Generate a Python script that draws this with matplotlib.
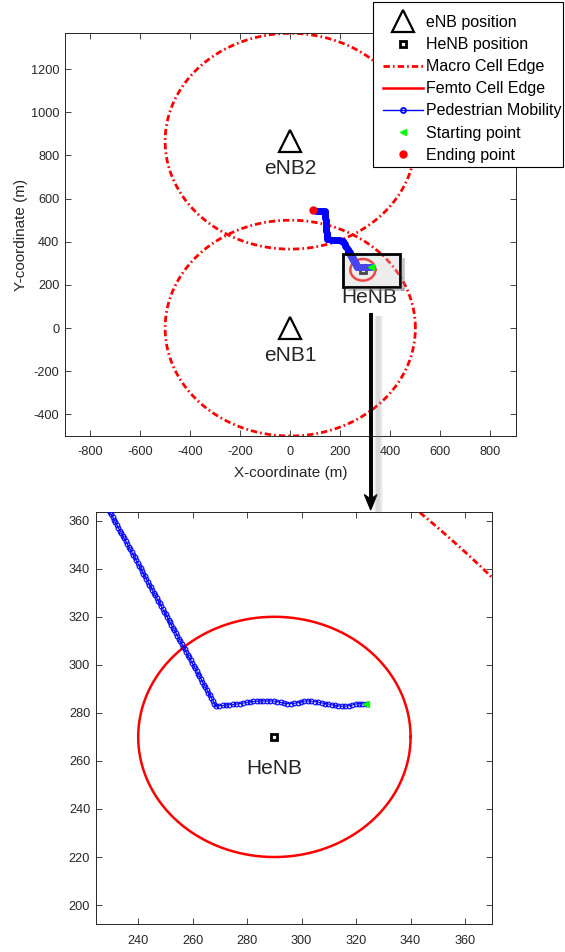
import numpy as np
import matplotlib.pyplot as plt
from matplotlib.patches import Rectangle, Polygon

plt.rcParams['font.family'] = ['Liberation Sans', 'DejaVu Sans']
plt.rcParams['axes.unicode_minus'] = False

W, H = 565, 952
INK = '#262626'

# ---- scenario data -------------------------------------------------------
enb_names = ['eNB1', 'eNB2']
enb_x = [0, 0]
enb_y = [0, 866]
macro_radius = 500

henb_name = 'HeNB'
henb_x = [290]
henb_y = [270]
femto_radius = 50

# pedestrian track, from starting point to ending point (m)
track_x = [
    323.5, 322.3, 321.0, 319.8, 318.5, 317.3, 316.0, 314.8, 313.5, 312.3,
    311.0, 309.8, 308.5, 307.3, 306.0, 304.8, 303.5, 302.3, 301.0, 299.8,
    298.5, 297.3, 296.0, 294.8, 293.5, 292.3, 291.0, 289.8, 288.5, 287.3,
    286.0, 284.8, 283.5, 282.3, 281.0, 279.8, 278.5, 277.3, 276.0, 274.8,
    273.5, 272.3, 271.0, 269.8, 268.5,
    268.0, 267.4, 266.9, 266.3, 265.8, 265.2, 264.7, 264.2, 263.6, 263.1,
    262.5, 262.0, 261.5, 260.9, 260.4, 259.8, 259.3, 258.7, 258.2, 257.7,
    257.1, 256.6, 256.0, 255.5, 255.0, 254.4, 253.9, 253.3, 252.8, 252.2,
    251.7, 251.2, 250.6, 250.1, 249.5, 249.0, 248.4, 247.9, 247.4, 246.8,
    246.3, 245.7, 245.2, 244.7, 244.1, 243.6, 243.0, 242.5, 241.9, 241.4,
    240.9, 240.3, 239.8, 239.2, 238.7, 238.1, 237.6, 237.1, 236.5, 236.0,
    235.4, 234.9, 234.3, 233.8, 233.3, 232.7, 232.2, 231.6, 231.1, 230.6,
    230.0, 229.5,
    226.5, 223.5, 220.5, 217.5, 214.5, 211.5, 209.5,
    203.0, 197.0, 191.0, 185.0, 179.0, 173.0, 167.0, 161.0, 155.0, 149.0,
    147.0,
    146.6, 146.2, 145.8, 145.4, 145.0, 144.5, 144.1, 143.7, 143.3, 142.9,
    142.5, 142.1, 141.7, 141.3, 140.9, 140.5, 140.1, 139.7, 139.2, 138.8,
    138.4, 138.0,
    132.0, 126.0, 120.0, 114.0, 108.0, 102.0, 96.0, 90.0,
]
track_y = [
    283.6, 283.8, 283.9, 283.7, 283.3, 283.0, 282.8, 282.8, 282.9, 283.1,
    283.4, 283.7, 283.9, 284.2, 284.5, 284.7, 284.9, 285.0, 284.9, 284.6,
    284.3, 284.0, 283.9, 283.9, 284.1, 284.4, 284.7, 284.9, 285.0, 285.0,
    285.0, 285.0, 284.9, 284.8, 284.6, 284.4, 284.1, 283.9, 283.7, 283.5,
    283.4, 283.3, 283.1, 283.0, 282.8,
    283.9, 285.1, 286.2, 287.3, 288.4, 289.6, 290.7, 291.8, 292.9, 294.1,
    295.2, 296.3, 297.4, 298.6, 299.7, 300.8, 301.9, 303.1, 304.2, 305.3,
    306.4, 307.6, 308.7, 309.8, 310.9, 312.1, 313.2, 314.3, 315.4, 316.6,
    317.7, 318.8, 319.9, 321.1, 322.2, 323.3, 324.4, 325.6, 326.7, 327.8,
    328.9, 330.1, 331.2, 332.3, 333.4, 334.6, 335.7, 336.8, 337.9, 339.1,
    340.2, 341.3, 342.4, 343.6, 344.7, 345.8, 346.9, 348.1, 349.2, 350.3,
    351.4, 352.6, 353.7, 354.8, 355.9, 357.1, 358.2, 359.3, 360.4, 361.6,
    362.7, 363.8,
    370.0, 376.3, 382.5, 388.8, 395.0, 401.2, 405.0,
    405.5, 406.2, 406.9, 407.6, 408.3, 409.0, 409.7, 410.4, 411.1, 411.8,
    412.0,
    418.0, 424.0, 430.0, 436.0, 442.0, 448.0, 454.0, 460.0, 466.0, 472.0,
    478.0, 484.0, 490.0, 496.0, 502.0, 508.0, 514.0, 520.0, 526.0, 532.0,
    538.0, 544.0,
    544.3, 544.5, 544.6, 544.7, 544.8, 544.9, 545.0, 545.0,
]

legend_labels = ['eNB position', 'HeNB position', 'Macro Cell Edge',
                 'Femto Cell Edge', 'Pedestrian Mobility',
                 'Starting point', 'Ending point']

top_xticks = [-800, -600, -400, -200, 0, 200, 400, 600, 800]
top_yticks = [-400, -200, 0, 200, 400, 600, 800, 1000, 1200]
zoom_xticks = [240, 260, 280, 300, 320, 340, 360]
zoom_yticks = [200, 220, 240, 260, 280, 300, 320, 340, 360]

# ---- helpers -------------------------------------------------------------
def fig_rect(left, top, right, bottom):
    """Axes rectangle from pixel edges."""
    return [left / W, 1 - bottom / H, (right - left) / W, (bottom - top) / H]


def fxy(x, y):
    return (x / W, 1 - y / H)


def ring(cx, cy, r, n=721):
    t = np.linspace(0, 2 * np.pi, n)
    return cx + r * np.cos(t), cy + r * np.sin(t)


def style_axes(ax):
    for s in ax.spines.values():
        s.set_color(INK)
        s.set_linewidth(0.7)
    ax.tick_params(direction='in', top=True, right=True, length=4,
                   width=0.6, colors=INK, labelsize=9.2)
    ax.tick_params(axis='x', pad=7.5)
    ax.tick_params(axis='y', pad=4)


def fig_line(xs, ys, **kw):
    fig.add_artist(plt.Line2D([x / W for x in xs], [1 - y / H for y in ys],
                              transform=fig.transFigure, **kw))


macro_dash = (0, (2.3, 1.1, 0.6, 1.1))

fig = plt.figure(figsize=(W / 100, H / 100), dpi=100)

# ---- overview map --------------------------------------------------------
ax = fig.add_axes(fig_rect(65, 33.3, 515.5, 436))
h_enb, = ax.plot(enb_x, enb_y, ls='none', marker='^', ms=16, mfc='none',
                 mec='black', mew=1.6, zorder=4)
h_henb, = ax.plot(henb_x, henb_y, ls='none', marker='s', ms=5, mfc='none',
                  mec='black', mew=2.0, zorder=5)
for cx, cy in zip(enb_x, enb_y):
    cxs, cys = ring(cx, cy, macro_radius)
    h_macro, = ax.plot(cxs, cys, color='red', lw=2.0, ls=macro_dash, zorder=2)
fxs, fys = ring(henb_x[0], henb_y[0], femto_radius)
h_femto, = ax.plot(fxs, fys, color='red', lw=1.8, zorder=3)
h_track, = ax.plot(track_x, track_y, color='blue', lw=1.0, marker='o',
                   ms=3.6, mfc='none', mec='blue', mew=1.3, zorder=6)
h_start, = ax.plot(track_x[:1], track_y[:1], ls='none', marker='<', ms=5,
                   color='#00ff00', zorder=8)
h_end, = ax.plot(track_x[-1:], track_y[-1:], ls='none', marker='o', ms=5,
                 color='red', zorder=8)
for name, x, y in zip(enb_names, enb_x, enb_y):
    ax.text(x, y - 128, name, ha='center', va='center', fontsize=15,
            color=INK)
ax.text(315, 140, henb_name, ha='center', va='center', fontsize=15,
        color=INK, zorder=9)
ax.set_xlim(-900, 900)
ax.set_ylim(-500, 1366)
ax.set_xticks(top_xticks)
ax.set_yticks(top_yticks)
ax.set_xlabel('X-coordinate (m)', fontsize=11, color=INK, labelpad=5.5)
ax.set_ylabel('Y-coordinate (m)', fontsize=11, color=INK, labelpad=2)
style_axes(ax)

# highlight box around the HeNB with a soft shadow
fig_line([402.5, 402.5], [258, 290.5], color='gray', lw=2.6, alpha=0.45,
         solid_capstyle='butt')
fig_line([347, 404], [289.2, 289.2], color='gray', lw=2.2, alpha=0.45,
         solid_capstyle='butt')
ax.add_patch(Rectangle(fxy(343.3, 286.7), (400 - 343.3) / W,
                       (286.7 - 254.3) / H, transform=fig.transFigure,
                       facecolor=(0.80, 0.80, 0.80), alpha=0.35,
                       edgecolor='none', zorder=7))
ax.add_patch(Rectangle(fxy(343.3, 286.7), (400 - 343.3) / W,
                       (286.7 - 254.3) / H, transform=fig.transFigure,
                       facecolor='none', edgecolor='black', lw=2.0,
                       zorder=7))

# ---- zoomed view around the HeNB -----------------------------------------
bx = fig.add_axes(fig_rect(95.7, 512.3, 492.3, 924.3))
cxs, cys = ring(enb_x[0], enb_y[0], macro_radius)
bx.plot(cxs, cys, color='red', lw=2.0, ls=macro_dash, zorder=2)
bx.plot(fxs, fys, color='red', lw=1.8, zorder=3)
bx.plot(track_x, track_y, color='blue', lw=0.7, marker='o', ms=3.4,
        mfc='none', mec='blue', mew=0.8, zorder=6)
bx.plot(track_x[:1], track_y[:1], ls='none', marker='<', ms=5,
        color='#00ff00', zorder=8)
bx.plot(henb_x, henb_y, ls='none', marker='s', ms=5, mfc='none',
        mec='black', mew=2.0, zorder=5)
bx.text(henb_x[0], 257, henb_name, ha='center', va='center', fontsize=15,
        color=INK)
bx.set_xlim(224.4, 370)
bx.set_ylim(192, 363.5)
bx.set_xticks(zoom_xticks)
bx.set_yticks(zoom_yticks)
style_axes(bx)

# ---- connecting arrow with shadow ----------------------------------------
for lw, a in [(7, 0.08), (5, 0.10), (3, 0.14)]:
    fig_line([377.5, 377.5], [316, 512], color='gray', lw=lw, alpha=a,
             solid_capstyle='butt')
fig_line([370.7, 370.7], [313, 500], color='black', lw=2.8,
         solid_capstyle='butt')
fig.add_artist(Polygon([fxy(370.7, 510), fxy(364.3, 494.5),
                        fxy(370.7, 499), fxy(377.1, 494.5)], closed=True,
                       transform=fig.transFigure, facecolor='black',
                       edgecolor='black', lw=0.8))

# ---- legend ----------------------------------------------------------------
handles = [h_enb, h_henb, h_macro, h_femto, h_track, h_start, h_end]
fig.add_artist(Rectangle(fxy(373.3, 166.7), (563.3 - 373.3) / W,
                         (166.7 - 1.7) / H, transform=fig.transFigure,
                         facecolor='white', edgecolor='black', lw=0.8,
                         zorder=9))
leg = fig.legend(handles, legend_labels, loc='upper right',
                 bbox_to_anchor=(562.0 / W, 1 - 15.0 / H),
                 bbox_transform=fig.transFigure, fontsize=11.5,
                 frameon=False, handlelength=2.5, handletextpad=0.25,
                 labelspacing=0.445, borderpad=0, borderaxespad=0,
                 numpoints=1)
leg.set_zorder(10)

fig.savefig('out.png', dpi=100)
